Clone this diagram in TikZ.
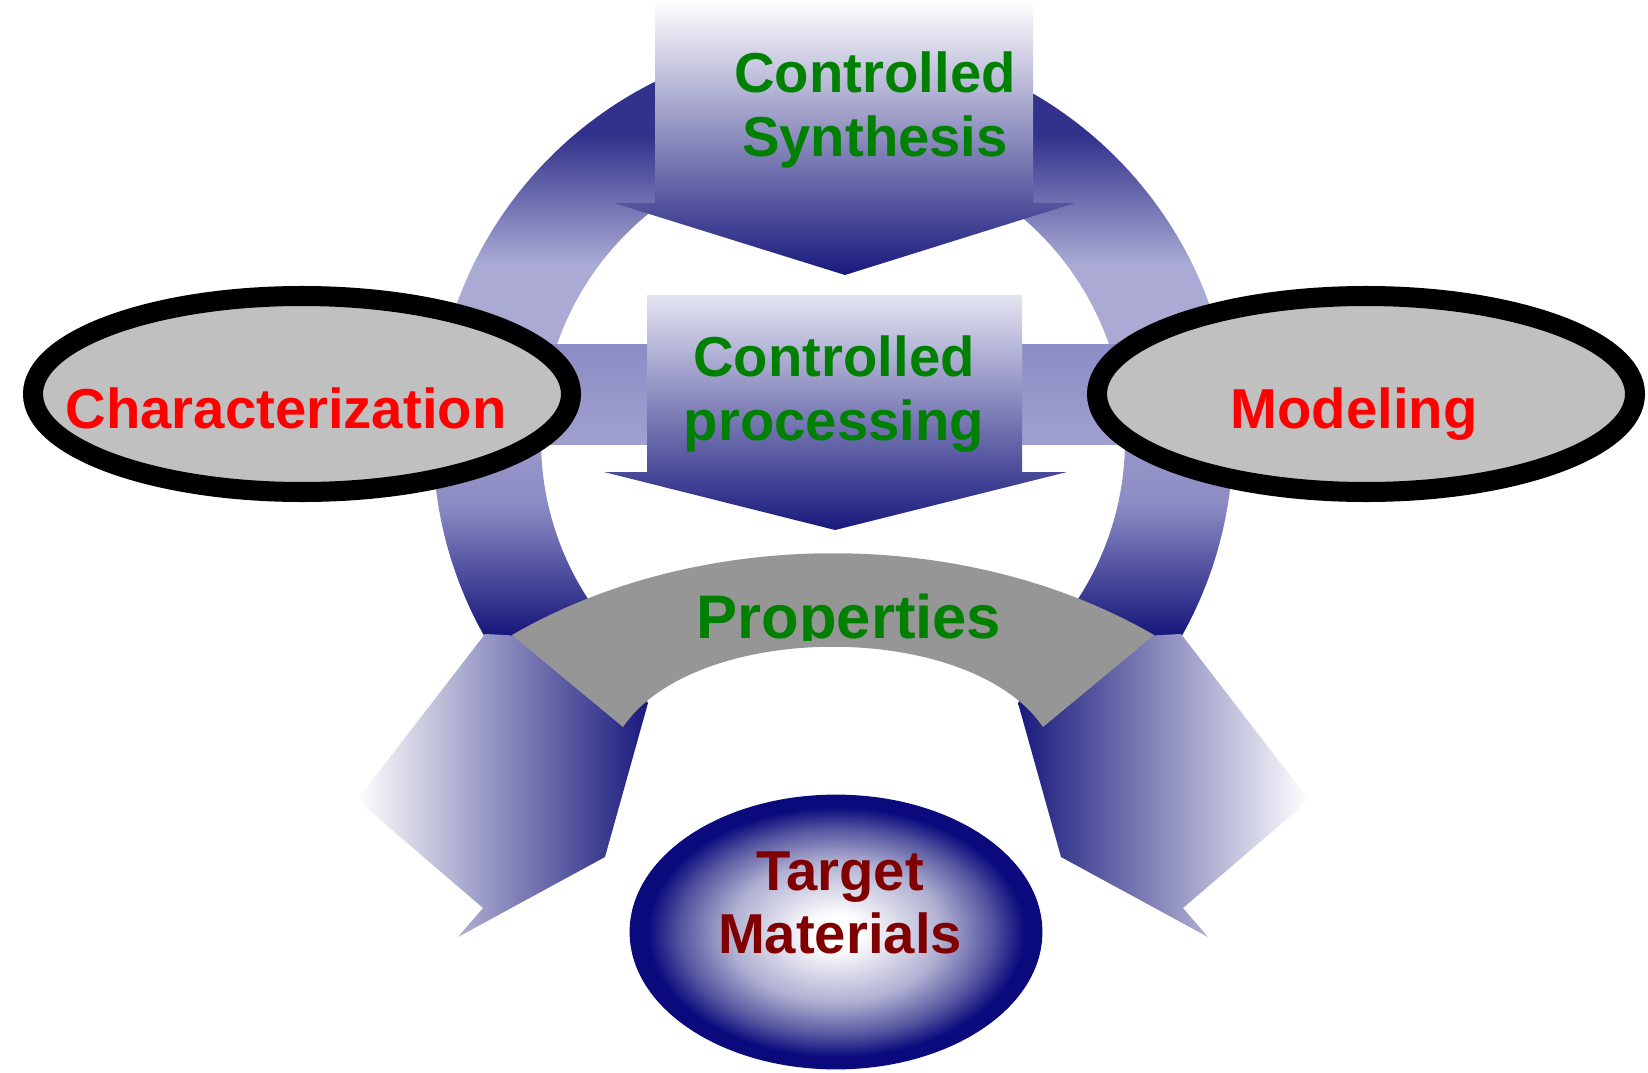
\documentclass[tikz,border=0pt]{standalone}
\usepackage{fontspec}
\setmainfont{Liberation Sans}
\definecolor{navy}{RGB}{25,25,125}
\definecolor{rimnavy}{RGB}{10,10,125}
\definecolor{ringdark}{RGB}{50,50,140}
\definecolor{ringmid}{RGB}{140,140,196}
\definecolor{lav}{RGB}{170,170,213}
\definecolor{legmid}{RGB}{165,165,205}
\definecolor{barmid}{RGB}{112,112,180}
\definecolor{bartop}{RGB}{140,140,198}
\definecolor{barlow}{RGB}{160,160,208}
\definecolor{boxmid}{RGB}{208,208,229}
\definecolor{proctop}{RGB}{228,228,242}
\definecolor{tgtmid}{RGB}{175,175,210}
\definecolor{tgtdark}{RGB}{85,85,160}
\definecolor{ovalgray}{RGB}{192,192,192}
\definecolor{bandgray}{RGB}{150,150,150}
\definecolor{txtgreen}{RGB}{0,128,0}
\definecolor{darkred}{RGB}{128,0,0}
\pgfdeclareverticalshading{ringshade}{100bp}{color(0bp)=(navy); color(38bp)=(navy); color(46bp)=(ringmid); color(56bp)=(lav); color(61bp)=(lav); color(69bp)=(ringdark); color(100bp)=(ringdark)}
\pgfdeclareradialshading{targetshade}{\pgfpoint{0bp}{0bp}}{color(0bp)=(white); color(3bp)=(white); color(13bp)=(tgtmid); color(19bp)=(tgtdark); color(23bp)=(rimnavy); color(50bp)=(rimnavy)}
\begin{document}
\begin{tikzpicture}[x=0.01cm, y=-0.01cm,
  lbl/.style={font=\fontsize{16}{18}\selectfont\bfseries, inner sep=0pt, align=center},
  oval/.style={draw=black, line width=2mm, fill=ovalgray}]
\useasboundingbox (0,0) rectangle (1648,1073);
\begin{scope}
\clip (0,0) rectangle (1648,636);
\shade[shading=ringshade, even odd rule] (833,440) circle (400) (833,440) circle (292);
\end{scope}
\shade[top color=bartop, middle color=barmid, bottom color=barlow] (302,344) rectangle (1366,444);
\shade[top color=white, middle color=boxmid, bottom color=navy] (655,0) -- (655,203) -- (614,203) -- (845,275) -- (1075,203) -- (1033,203) -- (1033,0) -- cycle;
\shade[left color=white, middle color=legmid, right color=navy] (485,634) -- (357,800) -- (483,908) -- (458,937) -- (605,857) -- (648,703) -- (600,640) -- cycle;
\shade[left color=navy, middle color=legmid, right color=white] (1181,634) -- (1309,800) -- (1183,908) -- (1208,937) -- (1061,857) -- (1018,703) -- (1066,640) -- cycle;
\fill[bandgray] (512,635) .. controls (700,526) and (966,526) .. (1154,635) -- (1043,727) .. controls (970,620) and (696,620) .. (623,727) -- cycle;
\shade[top color=proctop, middle color=boxmid, bottom color=navy] (647,295) -- (647,472) -- (604,472) -- (835,530) -- (1067,472) -- (1022,472) -- (1022,295) -- cycle;
\foreach \cx/\tx/\nm/\txt in {302/286/char/Characterization, 1366/1354/model/Modeling} {
  \draw[oval] (\cx,394) ellipse [x radius=269, y radius=98];
  \node[lbl, red, anchor=base] (\nm) at (\tx,429) {\txt};
}
\shade[shading=targetshade, draw=rimnavy, thick] (836,932) ellipse [x radius=205, y radius=136];
\node[lbl, txtgreen] (synth) at (875,110) {Controlled\\Synthesis};
\node[lbl, txtgreen] (proc) at (834,394) {Controlled\\processing};
\begin{scope}
\clip (600,560) rectangle (1100,640);
\node[lbl, txtgreen, anchor=base, font=\fontsize{17.5}{20}\selectfont\bfseries] (prop) at (849,638) {Properties};
\end{scope}
\node[lbl, darkred] (target) at (840,903) {Target\\Materials};
\end{tikzpicture}
\end{document}
